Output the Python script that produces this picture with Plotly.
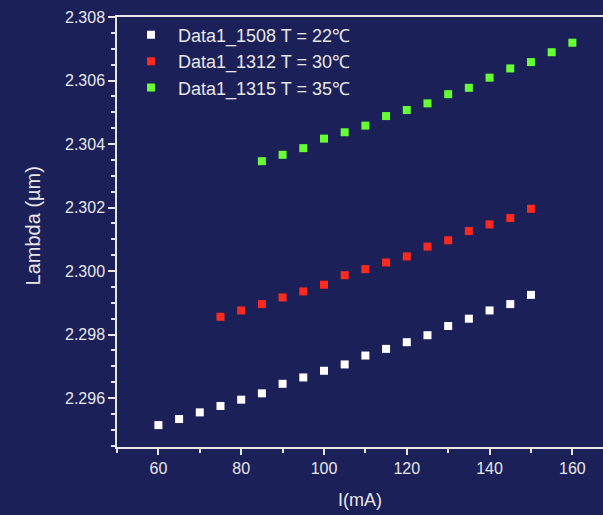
import plotly.graph_objects as go

x_22 = [60, 65, 70, 75, 80, 85, 90, 95, 100, 105, 110, 115, 120, 125, 130, 135, 140, 145, 150]
y_22 = [2.29515, 2.29534, 2.29555, 2.29575, 2.29595, 2.29615, 2.29645, 2.29665, 2.29686, 2.29706,
        2.29734, 2.29755, 2.29776, 2.29798, 2.29827, 2.29850, 2.29876, 2.29896, 2.29925]

x_30 = [75, 80, 85, 90, 95, 100, 105, 110, 115, 120, 125, 130, 135, 140, 145, 150]
y_30 = [2.29856, 2.29876, 2.29896, 2.29917, 2.29936, 2.29957, 2.29987, 2.30006, 2.30027, 2.30046,
        2.30077, 2.30097, 2.30126, 2.30147, 2.30167, 2.30196]

x_35 = [85, 90, 95, 100, 105, 110, 115, 120, 125, 130, 135, 140, 145, 150, 155, 160]
y_35 = [2.30346, 2.30366, 2.30387, 2.30417, 2.30437, 2.30458, 2.30488, 2.30507, 2.30528, 2.30557,
        2.30577, 2.30609, 2.30638, 2.30658, 2.30689, 2.30719]

names = ["Data1_1508 T = 22℃", "Data1_1312 T = 30℃", "Data1_1315 T = 35℃"]
colors = ["#ffffff", "#ff2a1e", "#66ff33"]

BG = "#1c2059"
FG = "#e6e6e6"
FONT = "Liberation Sans, Arial, sans-serif"

fig = go.Figure()
for xs, ys, nm, c in zip([x_22, x_30, x_35], [y_22, y_30, y_35], names, colors):
    fig.add_trace(go.Scatter(x=xs, y=ys, mode="markers", name=nm,
                             marker=dict(symbol="square", size=8, color=c, line=dict(width=0))))

fig.update_layout(
    width=603, height=515,
    margin=dict(l=117, r=0, t=17, b=68),
    paper_bgcolor=BG, plot_bgcolor=BG,
    font=dict(family=FONT, color=FG, size=16),
    showlegend=True,
    legend=dict(x=0.0144, y=1.001, xanchor="left", yanchor="top", itemwidth=44,
                bgcolor="rgba(0,0,0,0)", font=dict(size=18, color=FG)),
    xaxis=dict(range=[50, 167.4], showgrid=False, zeroline=False,
               showline=True, linecolor=FG, linewidth=1.5, mirror=True,
               ticks="outside", ticklen=6, tickcolor=FG, tickwidth=1.5,
               tick0=0, dtick=20, tickfont=dict(size=16, color=FG),
               minor=dict(ticks="outside", ticklen=4, dtick=10, tick0=0, tickcolor=FG, tickwidth=1.5)),
    yaxis=dict(range=[2.29446, 2.308], showgrid=False, zeroline=False,
               showline=True, linecolor=FG, linewidth=1.5, mirror=False,
               ticks="outside", ticklen=7, tickcolor=FG, tickwidth=1.5,
               tick0=2.296, dtick=0.002, tickformat=".3f", tickfont=dict(size=16, color=FG),
               minor=dict(ticks="outside", ticklen=4, dtick=0.0005, tick0=2.296, tickcolor=FG, tickwidth=1.5)),
    annotations=[
        dict(text="I(mA)", xref="paper", yref="paper", x=0.5, y=-0.123,
             xanchor="center", yanchor="middle", showarrow=False, font=dict(size=18, color=FG)),
        dict(text="Lambda (µm)", xref="paper", yref="paper", x=-0.172, y=(447 - 226) / 430,
             xanchor="center", yanchor="middle", textangle=-90, showarrow=False,
             font=dict(size=20, color=FG)),
    ],
)

fig.write_html("out.html")
